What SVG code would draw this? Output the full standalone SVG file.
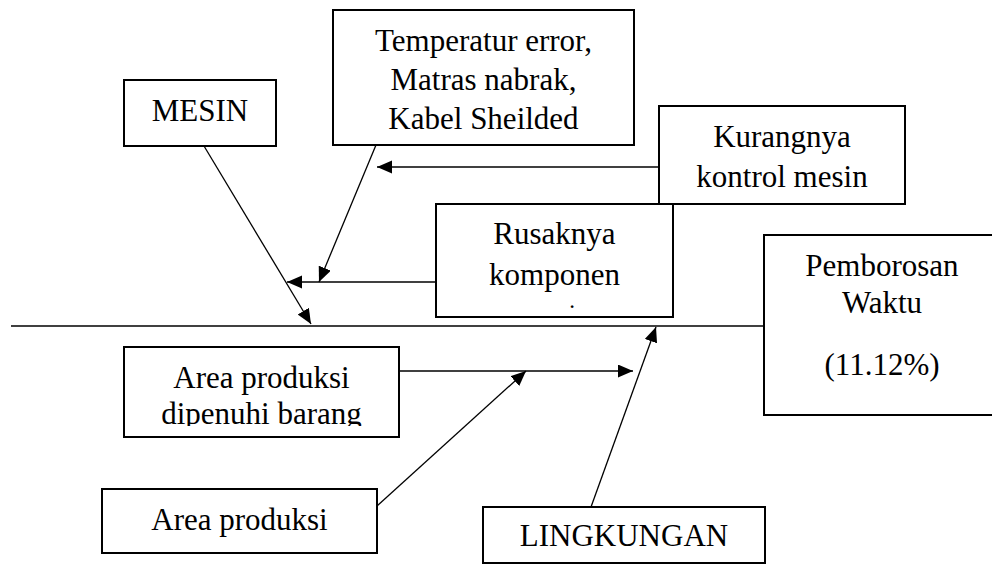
<svg xmlns="http://www.w3.org/2000/svg" width="992" height="565" viewBox="0 0 992 565">
<style>
.box{fill:#fff;stroke:#000;stroke-width:2}
.t{font-family:"Liberation Serif","Times New Roman",serif;font-size:31px;fill:#000;text-anchor:middle}
.dot{font-family:"Liberation Serif","Times New Roman",serif;font-size:17px;font-weight:bold;fill:#000;text-anchor:middle}
.c{stroke:#000;stroke-width:1.3;fill:none}
</style>
<defs>
<marker id="ah" markerUnits="userSpaceOnUse" markerWidth="16" markerHeight="14" refX="15" refY="6.5" orient="auto" viewBox="0 0 16 14">
<path d="M0,0 L15,6.5 L0,13 z" fill="#000"/>
</marker>
<clipPath id="clipDip"><rect x="124" y="347" width="275" height="79"/></clipPath>
</defs>
<rect width="992" height="565" fill="#fff"/>
<g id="connectors">
<line class="c" x1="11" y1="326" x2="764" y2="326"/>
<line class="c" x1="204" y1="146" x2="311" y2="324" marker-end="url(#ah)"/>
<line class="c" x1="376" y1="145" x2="319" y2="282" marker-end="url(#ah)"/>
<line class="c" x1="436" y1="282" x2="287" y2="282" marker-end="url(#ah)"/>
<line class="c" x1="659" y1="167" x2="377" y2="167" marker-end="url(#ah)"/>
<line class="c" x1="399" y1="371" x2="633" y2="371" marker-end="url(#ah)"/>
<line class="c" x1="377" y1="506" x2="526" y2="371" marker-end="url(#ah)"/>
<line class="c" x1="591" y1="507" x2="656" y2="327" marker-end="url(#ah)"/>
</g>
<g id="mesin">
<rect class="box" x="124" y="80" width="152" height="66"/>
<text class="t" x="200" y="121">MESIN</text>
</g>
<g id="temperatur">
<rect class="box" x="333" y="10" width="301" height="135"/>
<text class="t" x="483.5" y="51">Temperatur error,</text>
<text class="t" x="483.5" y="90">Matras nabrak,</text>
<text class="t" x="483.5" y="129">Kabel Sheilded</text>
</g>
<g id="kurangnya">
<rect class="box" x="659" y="106" width="246" height="98"/>
<text class="t" x="782" y="147">Kurangnya</text>
<text class="t" x="782" y="187">kontrol mesin</text>
</g>
<g id="rusaknya">
<rect class="box" x="436" y="204" width="237" height="113"/>
<text class="t" x="554.5" y="244">Rusaknya</text>
<text class="t" x="554.5" y="285">komponen</text>
<text class="dot" x="572" y="308">.</text>
</g>
<g id="pemborosan">
<rect class="box" x="764" y="235" width="240" height="180"/>
<text class="t" x="882" y="276">Pemborosan</text>
<text class="t" x="882" y="313">Waktu</text>
<text class="t" x="882" y="375">(11.12%)</text>
</g>
<g id="dipenuhi">
<rect class="box" x="124" y="347" width="275" height="90"/>
<text class="t" x="261.5" y="388">Area produksi</text>
<text class="t" x="261.5" y="423.5" clip-path="url(#clipDip)">dipenuhi barang</text>
</g>
<g id="area-produksi">
<rect class="box" x="102" y="489" width="275" height="64"/>
<text class="t" x="239.5" y="530">Area produksi</text>
</g>
<g id="lingkungan">
<rect class="box" x="483" y="507" width="282" height="56"/>
<text class="t" x="624" y="546">LINGKUNGAN</text>
</g>
</svg>
